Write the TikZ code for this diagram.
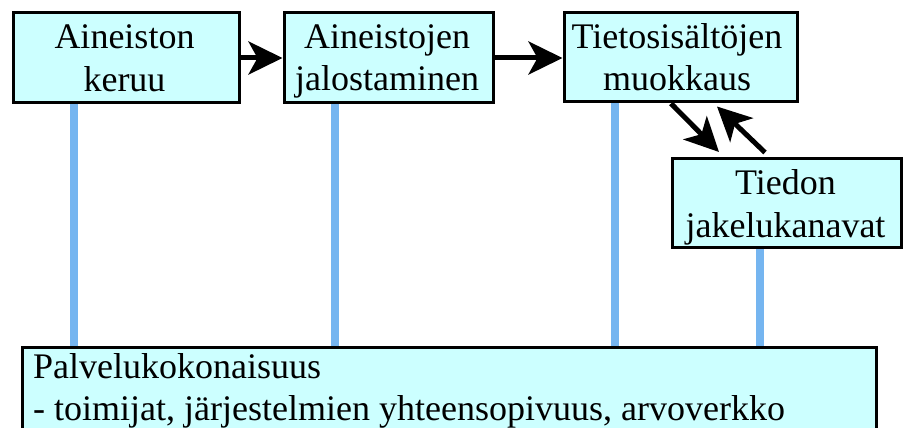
\documentclass[tikz,border=0pt]{standalone}
\usepackage{fontspec}
\setmainfont{Liberation Serif}
\usetikzlibrary{arrows.meta,calc,backgrounds}
\definecolor{boxfill}{RGB}{204,255,255}
\definecolor{linkblue}{RGB}{117,181,240}
\begin{document}
\begin{tikzpicture}[x=1pt,y=-1pt,
  box/.style={draw=black,line width=3pt,fill=boxfill,anchor=north west,inner sep=0pt},
  lbl/.style={font=\fontsize{36}{43}\selectfont,align=center,anchor=base,inner sep=0pt},
  lbll/.style={font=\fontsize{36}{42}\selectfont,align=left,anchor=base west,inner sep=0pt},
  flow/.style={line width=5pt,-{Stealth[length=34pt,width=33pt,inset=9pt]}},
  link/.style={line width=8pt,draw=linkblue}]
\useasboundingbox (0,0) rectangle (903,428);
% boxes
\node[box,minimum width=226pt,minimum height=90pt] (b1) at (11.5,11.5) {};
\node[box,minimum width=209pt,minimum height=90pt] (b2) at (282.5,11.5) {};
\node[box,minimum width=233pt,minimum height=89pt] (b3) at (562.5,11.5) {};
\node[box,minimum width=229.5pt,minimum height=89.5pt] (b4) at (670.5,156.5) {};
\node[box,minimum width=854.5pt,minimum height=110pt] (bot) at (20.5,345.5) {};
% labels (base anchor = baseline of last line)
\node[lbl] (t1) at (124.5,92) {Aineiston\\keruu};
\node[lbl] (t2) at (387,91) {Aineistojen\\jalostaminen};
\node[lbl] (t3) at (677,91) {Tietosisältöjen\\muokkaus};
\node[lbl] (t4) at (785.5,237) {Tiedon\\jakelukanavat};
\node[lbll] (t5) at (33,420) {Palvelukokonaisuus\\- toimijat, järjestelmien yhteensopivuus, arvoverkko};
% blue links
\coordinate (l1) at (74,0);
\coordinate (l2) at (335,0);
\coordinate (l3) at (615,0);
\coordinate (l4) at (760,0);
\begin{scope}[on background layer]
\draw[link] (l1 |- b1.south) -- (l1 |- bot.north);
\draw[link] (l2 |- b2.south) -- (l2 |- bot.north);
\draw[link] (l3 |- b3.south) -- (l3 |- bot.north);
\draw[link] (l4 |- b4.south) -- (l4 |- bot.north);
\end{scope}
% flow arrows
\draw[flow] (b1.east) -- (b1.east -| b2.west);
\draw[flow] (b2.east) -- (b2.east -| b3.west);
\draw[flow] ($(b3.south west)+(108.5,0)$) -- ($(b4.north west)+(48.5,-4.5)$);
\draw[flow] ($(b4.north west)+(94.5,-4)$) -- ($(b3.south west)+(154.5,3)$);
\end{tikzpicture}
\end{document}
